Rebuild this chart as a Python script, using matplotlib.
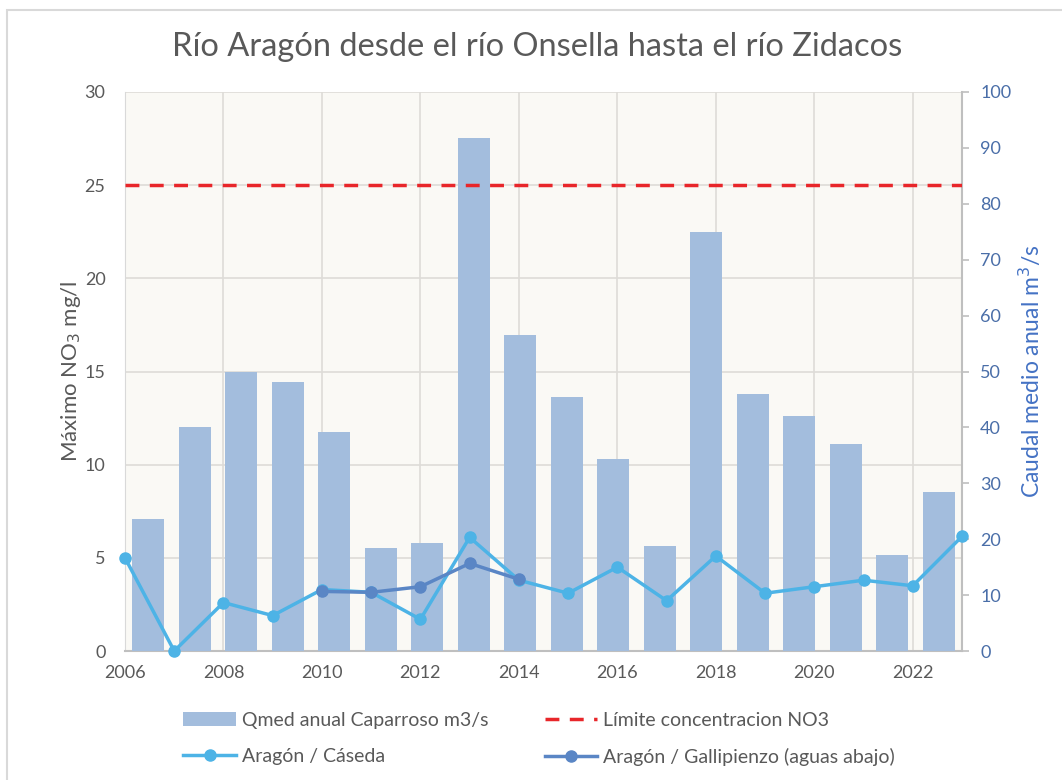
import numpy as np
import matplotlib.pyplot as plt
from matplotlib.patches import Rectangle

plt.rcParams['font.family'] = ['Lato', 'DejaVu Sans']

# data
years = list(range(2006, 2024))
qmed = [23.7, 40.1, 50.0, 48.2, 39.2, 18.5, 19.4, 91.8, 56.5, 45.4,
        34.4, 18.8, 75.0, 45.9, 42.0, 37.0, 17.2, 28.5]
caseda = [5.0, 0.0, 2.6, 1.9, 3.3, 3.15, 1.7, 6.1, 3.8, 3.1,
          4.5, 2.7, 5.1, 3.1, 3.45, 3.8, 3.5, 6.15]
galli_years = [2010, 2011, 2012, 2013, 2014]
galli = [3.2, 3.15, 3.45, 4.7, 3.85]
limite = 25
year_ticks = list(range(2006, 2023, 2))

gray = '#595959'
blue_txt = '#4A6EA8'

fig = plt.figure(figsize=(10.62, 7.8), dpi=100)
pos = [125 / 1062, 1 - 651 / 780, (962 - 125) / 1062, (651 - 92) / 780]

# bottom layer: background, grid, left axis, year ticks
ax = fig.add_axes(pos)
ax.set_facecolor('#FAF9F5')
ax.set_xlim(2006, 2023)
ax.set_ylim(0, 30)
ax.set_xticks(year_ticks)
ax.set_yticks(range(0, 31, 5))
ax.grid(True, color='#DEDCD8', lw=1.2)
ax.set_axisbelow(True)
for s in ['top', 'right']:
    ax.spines[s].set_visible(False)
ax.spines['left'].set_color('#D9D9D9')
ax.spines['bottom'].set_color('#BFBFBF')
ax.spines['bottom'].set_linewidth(1.5)
ax.tick_params(length=0, labelcolor=gray, labelsize=13)
ax.tick_params(axis='y', pad=14)
ax.tick_params(axis='x', pad=10)
ax.set_ylabel('Máximo NO$_3$ mg/l', color=gray, fontsize=16)
ax.yaxis.set_label_coords(-0.05, 0.5)

# middle layer: bars on secondary axis
axb = fig.add_axes(pos)
axb.patch.set_visible(False)
bars = axb.bar(np.arange(len(years)), qmed, width=0.68, color='#A3BDDD',
               label='Qmed anual Caparroso m3/s')
axb.set_xlim(-0.5, len(years) - 0.5)
axb.set_ylim(0, 100)
axb.set_yticks(range(0, 101, 10))
axb.set_xticks([])
axb.yaxis.tick_right()
axb.yaxis.set_label_position('right')
for s in ['top', 'left', 'bottom']:
    axb.spines[s].set_visible(False)
axb.spines['right'].set_color('#BFBFBF')
axb.spines['right'].set_linewidth(1.5)
axb.tick_params(axis='y', length=5, width=1.2, color='#BFBFBF',
                labelcolor=blue_txt, labelsize=13, pad=8)
axb.set_ylabel('Caudal medio anual m$^3$/s', color='#4472C4', fontsize=16.5)
axb.yaxis.set_label_coords(1.066, 0.5)

# top layer: lines
axl = fig.add_axes(pos, sharex=ax, sharey=ax)
axl.axis('off')
lim = axl.axhline(limite, color='#E8262A', lw=2.5, ls=(0, (4, 3)),
                  label='Límite concentracion NO3')
l1, = axl.plot(years, caseda, color='#4DB3E6', lw=2.5, marker='o', ms=8,
               label='Aragón / Cáseda', clip_on=False)
l2, = axl.plot(galli_years, galli, color='#5A86C5', lw=2.5, marker='o', ms=8,
               label='Aragón / Gallipienzo (aguas abajo)', clip_on=False)

handles = [bars, l1, lim, l2]
fig.legend(handles, [h.get_label() for h in handles], ncol=2, frameon=False,
           loc='center', bbox_to_anchor=(539 / 1062, 1 - 739 / 780),
           fontsize=14, labelcolor=gray, handlelength=2.7,
           columnspacing=2.9, labelspacing=1.0, handletextpad=0.3)

fig.text(537 / 1062, 1 - 47 / 780, 'Río Aragón desde el río Onsella hasta el río Zidacos',
         ha='center', va='center', fontsize=23.5, color=gray)

fig.patches.append(Rectangle((7 / 1062, -0.1), 1.2, 1 - 10 / 780 + 0.1,
                             transform=fig.transFigure, fill=False,
                             edgecolor='#D9D9D9', lw=1.5))

fig.savefig('out.png', dpi=100)
